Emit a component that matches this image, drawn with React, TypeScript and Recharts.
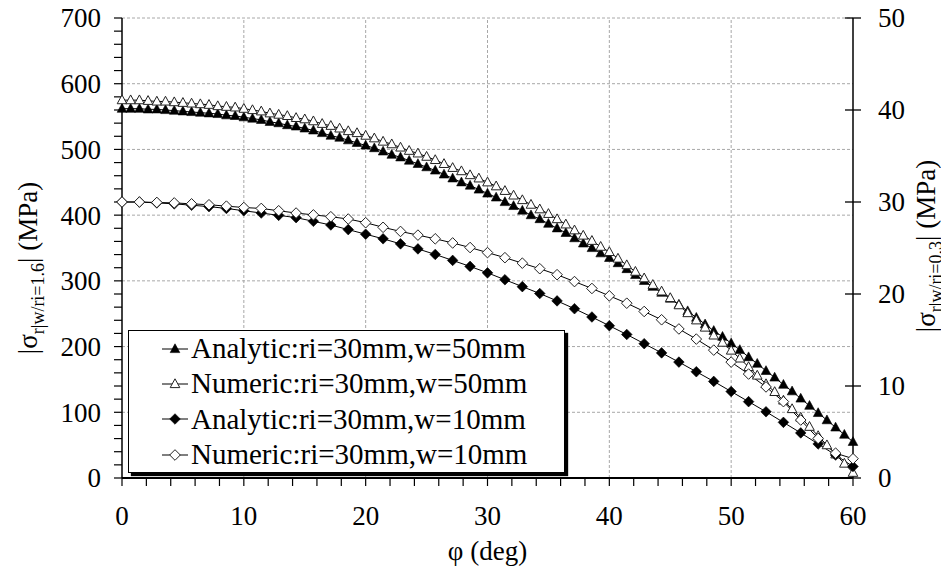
import React from 'react';
import { LineChart, Line, XAxis, YAxis, ReferenceLine, Legend, Label } from 'recharts';

const FONT = '"Liberation Serif", "DejaVu Serif", serif';

// φ (deg) sample positions of the triangle series
const phiTri = [
  0, 0.71, 1.43, 2.14, 2.86, 3.57, 4.29, 5, 5.71, 6.43, 7.14, 7.86, 8.57, 9.29, 10,
  10.71, 11.43, 12.14, 12.86, 13.57, 14.29, 15, 15.71, 16.43, 17.14, 17.86, 18.57, 19.29, 20,
  20.71, 21.43, 22.14, 22.86, 23.57, 24.29, 25, 25.71, 26.43, 27.14, 27.86, 28.57, 29.29, 30,
  30.71, 31.43, 32.14, 32.86, 33.57, 34.29, 35, 35.71, 36.43, 37.14, 37.86, 38.57, 39.29, 40,
  40.71, 41.43, 42.14, 42.86, 43.57, 44.29, 45, 45.71, 46.43, 47.14, 47.86, 48.57, 49.29, 50,
  50.71, 51.43, 52.14, 52.86, 53.57, 54.29, 55, 55.71, 56.43, 57.14, 57.86, 58.57, 59.29, 60,
];

// Analytic: ri=30mm, w=50mm (left axis, MPa)
const analytic50 = [
  562, 562, 562, 561, 561, 560, 559, 558,
  557, 556, 555, 554, 552, 551, 549,
  547, 545, 542, 540, 537, 535, 532,
  529, 525, 521, 518, 514, 510, 506,
  502, 497, 492, 488, 483, 478, 473,
  468, 462, 456, 450, 445, 439, 433,
  427, 420, 414, 407, 400, 394, 387,
  380, 373, 365, 357, 350, 342, 335,
  327, 318, 309, 300, 291, 282, 273,
  264, 254, 244, 234, 224, 215, 205,
  195, 184, 174, 163, 153, 142, 132,
  121, 110, 99, 88, 77, 66, 55,
];

// Numeric: ri=30mm, w=50mm (left axis, MPa)
const numeric50 = [
  575, 575, 575, 574, 573, 573, 572, 571,
  570, 569, 568, 566, 565, 564, 562,
  560, 558, 555, 553, 551, 548, 546,
  543, 539, 536, 532, 528, 525, 521,
  517, 512, 508, 503, 498, 494, 489,
  484, 478, 472, 467, 461, 456, 450,
  444, 437, 430, 423, 416, 409, 402,
  394, 386, 377, 369, 361, 352, 344,
  334, 324, 314, 304, 294, 284, 274,
  263, 251, 240, 229, 217, 206, 194,
  182, 169, 156, 143, 131, 118, 105,
  92, 78, 64, 50, 36, 22, 8,
];

// φ (deg) sample positions of the diamond series
const phiDia = [
  0, 1.43, 2.86, 4.29, 5.71, 7.14, 8.57, 10,
  11.43, 12.86, 14.29, 15.71, 17.14, 18.57, 20,
  21.43, 22.86, 24.29, 25.71, 27.14, 28.57, 30,
  31.43, 32.86, 34.29, 35.71, 37.14, 38.57, 40,
  41.43, 42.86, 44.29, 45.71, 47.14, 48.57, 50,
  51.43, 52.86, 54.29, 55.71, 57.14, 58.57, 60,
];

// Analytic: ri=30mm, w=10mm (right axis, MPa)
const analytic10 = [
  30.0, 30.0, 29.9, 29.8, 29.65, 29.5, 29.3, 29.05,
  28.8, 28.55, 28.3, 27.9, 27.5, 27.0, 26.5,
  26.0, 25.45, 24.9, 24.3, 23.65, 23.0, 22.3,
  21.55, 20.8, 20.05, 19.25, 18.4, 17.5, 16.55,
  15.6, 14.6, 13.6, 12.6, 11.55, 10.5, 9.4,
  8.3, 7.2, 6.05, 4.9, 3.7, 2.5, 1.25,
];

// Numeric: ri=30mm, w=10mm (right axis, MPa)
const numeric10 = [
  30.0, 30.0, 29.95, 29.9, 29.8, 29.7, 29.55, 29.4,
  29.3, 29.05, 28.8, 28.6, 28.4, 28.15, 27.75,
  27.25, 26.8, 26.4, 26.0, 25.55, 25.05, 24.5,
  23.95, 23.35, 22.75, 22.1, 21.35, 20.6, 19.8,
  19.0, 18.1, 17.2, 16.2, 15.1, 13.9, 12.6,
  11.3, 9.9, 8.3, 6.3, 4.3, 2.7, 2.1,
];

const xTicks = [0, 2, 4, 6, 8, 10, 12, 14, 16, 18, 20, 22, 24, 26, 28, 30, 32, 34, 36, 38, 40, 42, 44, 46, 48, 50, 52, 54, 56, 58, 60];
const xLabelTicks = [0, 10, 20, 30, 40, 50, 60];
const leftTicks = [0, 20, 40, 60, 80, 100, 120, 140, 160, 180, 200, 220, 240, 260, 280, 300, 320, 340, 360, 380, 400, 420, 440, 460, 480, 500, 520, 540, 560, 580, 600, 620, 640, 660, 680, 700];
const leftLabelTicks = [0, 100, 200, 300, 400, 500, 600, 700];
const rightTicks = [0, 10, 20, 30, 40, 50];
const xGrid = [10, 20, 30, 40, 50];
const yGrid = [100, 200, 300, 400, 500, 600, 700];

const legendItems = [
  { label: 'Analytic:ri=30mm,w=50mm', shape: 'triFilled' },
  { label: 'Numeric:ri=30mm,w=50mm', shape: 'triOpen' },
  { label: 'Analytic:ri=30mm,w=10mm', shape: 'diaFilled' },
  { label: 'Numeric:ri=30mm,w=10mm', shape: 'diaOpen' },
];

const triData = phiTri.map((p, i) => ({ phi: p, a50: analytic50[i], n50: numeric50[i] }));
const diaData = phiDia.map((p, j) => ({ phi: p, a10: analytic10[j], n10: numeric10[j] }));

function markerShape(shape: string, cx: number, cy: number, key?: any) {
  if (shape === 'triFilled' || shape === 'triOpen') {
    const pts = `${cx},${cy - 5.2} ${cx - 4.8},${cy + 3.6} ${cx + 4.8},${cy + 3.6}`;
    return shape === 'triFilled' ? (
      <polygon key={key} points={pts} fill="#000" stroke="#000" strokeWidth={0.6} />
    ) : (
      <polygon key={key} points={pts} fill="#fff" stroke="#222" strokeWidth={1} />
    );
  }
  const r = 5.3;
  const pts = `${cx},${cy - r} ${cx + r},${cy} ${cx},${cy + r} ${cx - r},${cy}`;
  return shape === 'diaFilled' ? (
    <polygon key={key} points={pts} fill="#000" stroke="#000" strokeWidth={0.6} />
  ) : (
    <polygon key={key} points={pts} fill="#fff" stroke="#222" strokeWidth={1} />
  );
}

const makeDot = (shape: string) => (props: any) => {
  const { cx, cy, index } = props;
  if (cx == null || cy == null || isNaN(cx) || isNaN(cy)) return <g key={`dot-${shape}-${index}`} />;
  return markerShape(shape, cx, cy, `dot-${shape}-${index}`);
};

const XTick = (props: any) => {
  const { x, y, payload } = props;
  if (!xLabelTicks.includes(payload.value)) return <g />;
  return (
    <text x={x} y={y} dy="0.7em" textAnchor="middle" fontFamily={FONT} fontSize={27} fill="#000">
      {payload.value}
    </text>
  );
};

const LeftTick = (props: any) => {
  const { x, y, payload } = props;
  if (!leftLabelTicks.includes(payload.value)) return <g />;
  return (
    <text x={x} y={y} dy="0.35em" textAnchor="end" fontFamily={FONT} fontSize={27} fill="#000">
      {payload.value}
    </text>
  );
};

const RightTick = (props: any) => {
  const { x, y, payload } = props;
  const axisX = x - 8 - 17;
  return (
    <g>
      <line x1={axisX - 8} x2={axisX + 8} y1={y} y2={y} stroke="#000" strokeWidth={1.3} />
      <text x={x} y={y} dy="0.35em" textAnchor="start" fontFamily={FONT} fontSize={27} fill="#000">
        {payload.value}
      </text>
    </g>
  );
};

const LeftTitle = () => (
  <text transform="translate(37, 268) rotate(-90)" textAnchor="middle" fontFamily={FONT} fontSize={27} fill="#000">
    |σ
    <tspan fontSize={18} dy={7}>r|w/ri=1.6</tspan>
    <tspan dy={-7}>| (MPa)</tspan>
  </text>
);

const RightTitle = () => (
  <text transform="translate(935, 246) rotate(-90)" textAnchor="middle" fontFamily={FONT} fontSize={27} fill="#000">
    |σ
    <tspan fontSize={18} dy={7}>r|w/ri=0.3</tspan>
    <tspan dy={-7}>| (MPa)</tspan>
  </text>
);

const XTitle = (props: any) => {
  const vb = props.viewBox || { x: 122, y: 478, width: 731, height: 90 };
  return (
    <text x={vb.x + vb.width / 2} y={vb.y + 82} textAnchor="middle" fontFamily={FONT} fontSize={27} fill="#000">
      φ (deg)
    </text>
  );
};

const renderLegend = () => (
  <div
    style={{
      width: 437,
      height: 143,
      boxSizing: 'border-box',
      border: '1.5px solid #000',
      background: '#fff',
      boxShadow: '3px 3px 1px #000',
      fontFamily: FONT,
      fontSize: 29,
      paddingLeft: 33,
      color: '#000',
    }}
  >
    {legendItems.map((it) => (
      <div key={it.label} style={{ display: 'flex', alignItems: 'center', height: 35.3, whiteSpace: 'nowrap' }}>
        <svg width={26} height={14} style={{ overflow: 'visible' }}>
          <line x1={0} x2={26} y1={7} y2={7} stroke="#000" strokeWidth={1} />
          {markerShape(it.shape, 13, 7)}
        </svg>
        <span style={{ marginLeft: 3, lineHeight: '35px' }}>{it.label}</span>
      </div>
    ))}
  </div>
);

export default function App() {
  return (
    <div style={{ position: 'absolute', left: 0, top: 0, width: 941, height: 568, background: '#fff' }}>
      <LineChart width={941} height={568} margin={{ top: 18, right: 0, bottom: 0, left: 0 }}>
        <XAxis
          dataKey="phi"
          type="number"
          domain={[0, 60]}
          ticks={xTicks}
          interval={0}
          height={90}
          tickSize={8}
          tickMargin={20}
          tick={<XTick />}
          axisLine={{ stroke: '#000', strokeWidth: 2 }}
          tickLine={{ stroke: '#000', strokeWidth: 1.2 }}
          allowDuplicatedCategory={false}
        >
          <Label content={<XTitle />} />
        </XAxis>
        <YAxis
          yAxisId="left"
          orientation="left"
          type="number"
          domain={[0, 700]}
          ticks={leftTicks}
          interval={0}
          width={122}
          tickSize={8}
          tickMargin={13}
          tick={<LeftTick />}
          axisLine={{ stroke: '#000', strokeWidth: 1.5 }}
          tickLine={{ stroke: '#000', strokeWidth: 1.2 }}
        >
          <Label content={<LeftTitle />} />
        </YAxis>
        <YAxis
          yAxisId="right"
          orientation="right"
          type="number"
          domain={[0, 50]}
          ticks={rightTicks}
          interval={0}
          width={88}
          tickSize={8}
          tickMargin={17}
          tick={<RightTick />}
          tickLine={false}
          axisLine={{ stroke: '#000', strokeWidth: 1.5 }}
        >
          <Label content={<RightTitle />} />
        </YAxis>
        {yGrid.map((v) => (
          <ReferenceLine key={`hy-${v}`} yAxisId="left" y={v} stroke="#a8a8a8" strokeDasharray="3 2" strokeWidth={1} />
        ))}
        {xGrid.map((v) => (
          <ReferenceLine key={`vx-${v}`} yAxisId="left" x={v} stroke="#a8a8a8" strokeDasharray="3 2" strokeWidth={1} />
        ))}
        <Line
          yAxisId="left"
          data={triData}
          dataKey="a50"
          type="linear"
          stroke="#000"
          strokeWidth={1}
          dot={makeDot('triFilled')}
          activeDot={false}
          isAnimationActive={false}
        />
        <Line
          yAxisId="left"
          data={triData}
          dataKey="n50"
          type="linear"
          stroke="#000"
          strokeWidth={1}
          dot={makeDot('triOpen')}
          activeDot={false}
          isAnimationActive={false}
        />
        <Line
          yAxisId="right"
          data={diaData}
          dataKey="a10"
          type="linear"
          stroke="#000"
          strokeWidth={1}
          dot={makeDot('diaFilled')}
          activeDot={false}
          isAnimationActive={false}
        />
        <Line
          yAxisId="right"
          data={diaData}
          dataKey="n10"
          type="linear"
          stroke="#000"
          strokeWidth={1}
          dot={makeDot('diaOpen')}
          activeDot={false}
          isAnimationActive={false}
        />
        <Legend
          layout="horizontal"
          verticalAlign="middle"
          align="center"
          content={renderLegend}
          wrapperStyle={{ left: 128, top: 330, width: 437, height: 143 }}
        />
      </LineChart>
    </div>
  );
}
